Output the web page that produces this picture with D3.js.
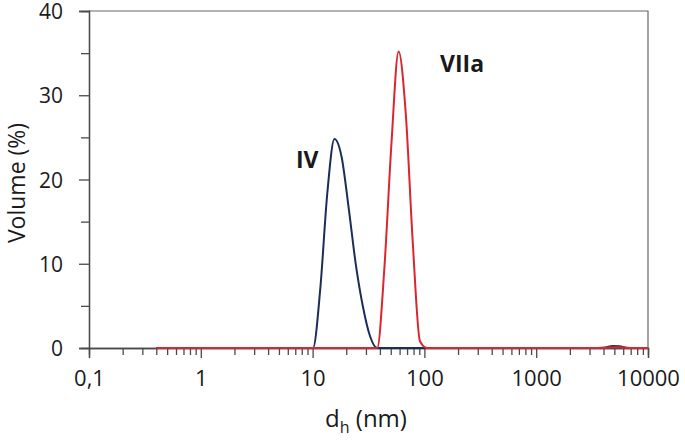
<!DOCTYPE html>
<html>
<head>
<meta charset="utf-8">
<script src="https://cdn.jsdelivr.net/npm/d3@7"></script>
<style>
  body { margin: 0; background: #fff; }
  svg text { font-family: "Open Sans", sans-serif; fill: #1a1a1a; }
</style>
</head>
<body>
<svg width="685" height="440"></svg>
<script>
// hydrodynamic diameter bins (nm) and volume distributions (%)
const sizes = [0.4, 7.53, 8.72, 10.09, 11.69, 13.54, 15.68, 18.16, 21.03, 24.36, 28.2, 32.66, 37.84, 43.81, 50.75, 58.75, 68.06, 78.8, 91.3, 105.7, 122.4, 3580, 4150, 4800, 5560, 6440, 7460, 10000];
const volIV = [0, 0, 0, 0, 6.9, 18.4, 24.8, 22.7, 16.6, 9.9, 4.9, 1.4, 0, 0, 0, 0, 0, 0, 0, 0, 0, 0, 0.05, 0.25, 0.2, 0.03, 0, 0];
const volVIIa = [0, 0, 0, 0, 0, 0, 0, 0, 0, 0, 0, 0, 0, 9.4, 24.3, 35.2, 27.9, 12.4, 0.8, 0, 0, 0, 0, 0.1, 0.1, 0, 0, 0];

const xTickValues = [0.1, 1, 10, 100, 1000, 10000];
const xTickLabels = ["0,1", "1", "10", "100", "1000", "10000"];
const yTickValues = [0, 10, 20, 30, 40];
const yMinorValues = [5, 15, 25, 35];

const svg = d3.select("svg");
const plotLeft = 89, plotRight = 648, plotTop = 11, plotBottom = 348;
const axisColor = "#4a4a4a";

const x = d3.scaleLog().domain([0.1, 10000]).range([plotLeft, plotRight]);
const y = d3.scaleLinear().domain([0, 40]).range([plotBottom, plotTop]);

// minor ticks on log axis: 2..9 in every decade
let xMinor = [];
xTickValues.slice(0, -1).forEach((d) => {
  for (let m = 2; m <= 9; m++) xMinor.push(d * m);
});

// frame (top and right)
svg.append("path")
  .attr("d", `M${plotLeft},${plotTop}H${plotRight}V${plotBottom}`)
  .attr("fill", "none")
  .attr("stroke", "#666")
  .attr("stroke-width", 1.2);

// x axis
const gxMinor = svg.append("g")
  .attr("transform", `translate(0,${plotBottom})`)
  .call(d3.axisBottom(x).tickValues(xMinor).tickSize(7).tickFormat(""));
const gx = svg.append("g")
  .attr("transform", `translate(0,${plotBottom})`)
  .call(d3.axisBottom(x).tickValues(xTickValues).tickSize(10)
    .tickFormat((d, i) => xTickLabels[i]));
gx.selectAll("text").attr("y", 22).attr("font-size", 22);

// y axis
const gyMinor = svg.append("g")
  .attr("transform", `translate(${plotLeft},0)`)
  .call(d3.axisLeft(y).tickValues(yMinorValues).tickSize(8).tickFormat(""));
const gy = svg.append("g")
  .attr("transform", `translate(${plotLeft},0)`)
  .call(d3.axisLeft(y).tickValues(yTickValues).tickSize(10));
gy.selectAll("text").attr("x", -26).attr("font-size", 21).attr("dy", "0.36em");

[gxMinor, gx, gyMinor, gy].forEach((g) => {
  g.attr("font-family", null);
  g.selectAll("path.domain").attr("stroke", axisColor).attr("stroke-width", 1.3);
  g.selectAll(".tick line").attr("stroke", axisColor).attr("stroke-width", 1.3);
  g.selectAll(".tick text").attr("fill", "#1a1a1a");
});

// distribution curves
const line = (vals) => d3.line()
  .x((d, i) => x(sizes[i]))
  .y((d) => y(d))
  .curve(d3.curveMonotoneX)(vals);

svg.append("path")
  .attr("d", line(volIV))
  .attr("fill", "none")
  .attr("stroke", "#1c2d58")
  .attr("stroke-width", 2);

svg.append("path")
  .attr("d", line(volVIIa))
  .attr("fill", "none")
  .attr("stroke", "#d9262f")
  .attr("stroke-width", 2);

// sample labels
svg.append("text").attr("x", 296).attr("y", 168)
  .attr("font-size", 23).attr("font-weight", "bold").text("IV");
svg.append("text").attr("x", 440).attr("y", 72)
  .attr("font-size", 23).attr("font-weight", "bold").text("VIIa");

// axis titles
svg.append("text")
  .attr("transform", "translate(16,183) rotate(-90)")
  .attr("text-anchor", "middle")
  .attr("dominant-baseline", "central")
  .attr("font-size", 23)
  .text("Volume (%)");

const xt = svg.append("text")
  .attr("x", 366).attr("y", 427)
  .attr("text-anchor", "middle")
  .attr("font-size", 24);
xt.append("tspan").text("d");
xt.append("tspan").attr("font-size", 16).attr("dy", 6).text("h");
xt.append("tspan").attr("dy", -6).text(" (nm)");
</script>
</body>
</html>
